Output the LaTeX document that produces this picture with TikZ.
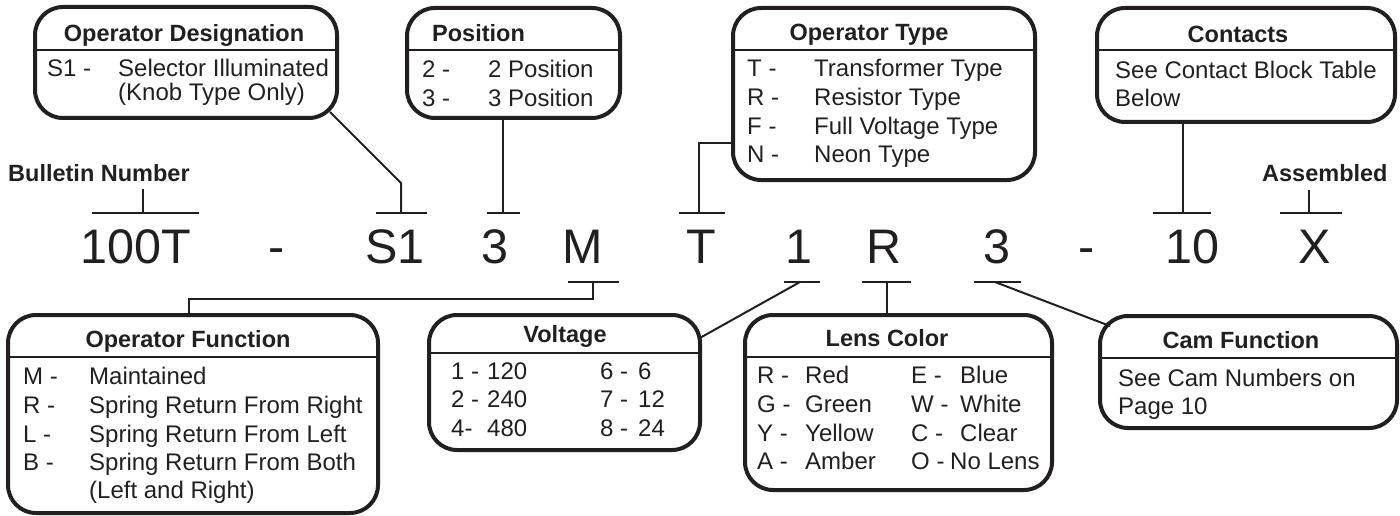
\documentclass[tikz,border=0pt]{standalone}
\usepackage{fontspec}
\setmainfont{Liberation Sans}
\definecolor{ink}{RGB}{35,31,32}
\begin{document}
\begin{tikzpicture}[x=1pt,y=-1pt,
  box/.style={draw=ink, line width=4pt, rounded corners=28pt, inner sep=0pt, outer sep=0pt},
  sepline/.style={draw=ink, line width=2pt},
  conn/.style={draw=ink, line width=2pt},
  body/.style={font=\fontsize{24}{28}\selectfont, text=ink, inner sep=0pt, anchor=base west},
  ttl/.style={font=\fontsize{23.5}{28}\selectfont\bfseries, text=ink, inner sep=0pt, anchor=base},
  lbl/.style={font=\fontsize{23.5}{28}\selectfont\bfseries, text=ink, inner sep=0pt, anchor=base west},
  big/.style={font=\fontsize{48.5}{56}\selectfont, text=ink, inner sep=0pt, anchor=base}]
\useasboundingbox (0,0) rectangle (1400,516);

% ---------- boxes ----------
\node[box, minimum width=302pt, minimum height=111pt] (od) at (186,62.5) {};
\node[box, minimum width=213pt, minimum height=110pt] (pos) at (513.5,63) {};
\node[box, minimum width=302pt, minimum height=172pt] (ot) at (884,94) {};
\node[box, minimum width=298pt, minimum height=114pt] (ct) at (1246,65) {};
\node[box, minimum width=370pt, minimum height=198pt] (of) at (193,414) {};
\node[box, minimum width=271pt, minimum height=135pt] (vo) at (564.5,382.5) {};
\node[box, minimum width=307pt, minimum height=175pt] (lc) at (898.5,402.5) {};
\node[box, minimum width=297pt, minimum height=112pt] (cf) at (1248.5,372) {};

% header separators
\draw[sepline] (35,50) -- (337,50);
\draw[sepline] (407,50) -- (620,50);
\draw[sepline] (733,50) -- (1035,50);
\draw[sepline] (1097,50) -- (1395,50);
\draw[sepline] (8,357) -- (378,357);
\draw[sepline] (429,353) -- (700,353);
\draw[sepline] (745,357) -- (1052,357);
\draw[sepline] (1100,358) -- (1397,358);

% ---------- box texts ----------
\node[ttl] (odT) at (184,42) {Operator Designation};
\node[body] (od1k) at (47,77) {S1 -};
\node[body] (od1v) at (118,77) {Selector Illuminated};
\node[body] (od2v) at (118,101) {(Knob Type Only)};

\node[lbl] (posT) at (432,42) {Position};
\node[body] (pos1k) at (422,78) {2 -};
\node[body] (pos1v) at (488,78) {2 Position};
\node[body] (pos2k) at (422,107) {3 -};
\node[body] (pos2v) at (488,107) {3 Position};

\node[ttl] (otT) at (869,41) {Operator Type};
\node[body] (ot1k) at (747,77) {T -};
\node[body] (ot1v) at (814,77) {Transformer Type};
\node[body] (ot2k) at (747,106) {R -};
\node[body] (ot2v) at (814,106) {Resistor Type};
\node[body] (ot3k) at (747,135) {F -};
\node[body] (ot3v) at (814,135) {Full Voltage Type};
\node[body] (ot4k) at (747,163) {N -};
\node[body] (ot4v) at (814,163) {Neon Type};

\node[ttl] (ctT) at (1238,43) {Contacts};
\node[body] (ct1) at (1115,79) {See Contact Block Table};
\node[body] (ct2) at (1115,107) {Below};

\node[lbl] (bn) at (8,182) {Bulletin Number};
\node[lbl] (as) at (1262,182) {Assembled};

\node[ttl] (ofT) at (188,347) {Operator Function};
\node[body] (of1k) at (23,384) {M -};
\node[body] (of1v) at (89,384) {Maintained};
\node[body] (of2k) at (23,413) {R -};
\node[body] (of2v) at (89,413) {Spring Return From Right};
\node[body] (of3k) at (23,442) {L -};
\node[body] (of3v) at (89,442) {Spring Return From Left};
\node[body] (of4k) at (23,470) {B -};
\node[body] (of4v) at (89,470) {Spring Return From Both};
\node[body] (of5v) at (89,498) {(Left and Right)};

\node[ttl] (voT) at (565,342) {Voltage};
\node[body] (vo1k) at (451,379) {1 -};
\node[body] (vo1v) at (487,379) {120};
\node[body] (vo2k) at (451,407) {2 -};
\node[body] (vo2v) at (487,407) {240};
\node[body] (vo3k) at (451,436) {4-};
\node[body] (vo3v) at (487,436) {480};
\node[body] (vo4k) at (600,379) {6 -};
\node[body] (vo4v) at (638,379) {6};
\node[body] (vo5k) at (600,407) {7 -};
\node[body] (vo5v) at (638,407) {12};
\node[body] (vo6k) at (600,436) {8 -};
\node[body] (vo6v) at (638,436) {24};

\node[ttl] (lcT) at (887,346) {Lens Color};
\node[body] (lc1k) at (757,383) {R -};
\node[body] (lc1v) at (805,383) {Red};
\node[body] (lc2k) at (757,412) {G -};
\node[body] (lc2v) at (805,412) {Green};
\node[body] (lc3k) at (757,441) {Y -};
\node[body] (lc3v) at (805,441) {Yellow};
\node[body] (lc4k) at (757,469) {A -};
\node[body] (lc4v) at (805,469) {Amber};
\node[body] (lc5k) at (911,383) {E -};
\node[body] (lc5v) at (960,383) {Blue};
\node[body] (lc6k) at (911,412) {W -};
\node[body] (lc6v) at (960,412) {White};
\node[body] (lc7k) at (911,441) {C -};
\node[body] (lc7v) at (960,441) {Clear};
\node[body] (lc8k) at (911,469) {O -};
\node[body] (lc8v) at (950,469) {No Lens};

\node[ttl] (cfT) at (1241,348) {Cam Function};
\node[body] (cf1) at (1118,386) {See Cam Numbers on};
\node[body] (cf2) at (1118,414) {Page 10};

% ---------- catalogue number ----------
\node[big] (c1) at (136,263) {100T};
\node[big] (c2) at (277,263) {-};
\node[big] (c3) at (395,263) {S1};
\node[big] (c4) at (495,263) {3};
\node[big] (c5) at (583,263) {M};
\node[big] (c6) at (701,263) {T};
\node[big] (c7) at (799,263) {1};
\node[big] (c8) at (884,263) {R};
\node[big] (c9) at (997,263) {3};
\node[big] (c10) at (1087,263) {-};
\node[big] (c11) at (1192,263) {10};
\node[big] (c12) at (1315,263) {X};

% ---------- tick marks ----------
\coordinate (tBa) at (92,213);   \coordinate (tBb) at (199,213);  \coordinate (tBm) at (143,213);
\coordinate (tSa) at (376,213);  \coordinate (tSb) at (427,213);  \coordinate (tSm) at (401,213);
\coordinate (tPa) at (487,213);  \coordinate (tPb) at (520,213);  \coordinate (tPm) at (503,213);
\coordinate (tTa) at (679,213);  \coordinate (tTb) at (725,213);  \coordinate (tTm) at (699,213);
\coordinate (tCa) at (1153,213); \coordinate (tCb) at (1211,213); \coordinate (tCm) at (1183,213);
\coordinate (tXa) at (1280,213); \coordinate (tXb) at (1342,213); \coordinate (tXm) at (1309,213);
\coordinate (tMa) at (568,282);  \coordinate (tMb) at (619,282);  \coordinate (tMm) at (593,282);
\coordinate (tVa) at (784,282);  \coordinate (tVb) at (820,282);  \coordinate (tVm) at (800,282);
\coordinate (tLa) at (862,282);  \coordinate (tLb) at (911,282);  \coordinate (tLm) at (887,282);
\coordinate (tFa) at (974,282);  \coordinate (tFb) at (1021,282); \coordinate (tFm) at (995,282);
\foreach \t in {B,S,P,T,C,X,M,V,L,F} {\draw[conn] (t\t a) -- (t\t b);}

% ---------- connectors ----------
\coordinate (bnA) at (143,189);
\draw[conn] (bnA) -- (tBm);
\coordinate (odA) at (330,112);
\coordinate (odB) at (401,183);
\draw[conn] (odA) -- (odB) -- (tSm);
\draw[conn] (pos.south -| tPm) -- (tPm);
\coordinate (otA) at (733,143);
\draw[conn] (otA) -- (tTm |- otA) -- (tTm);
\draw[conn] (ct.south -| tCm) -- (tCm);
\coordinate (asA) at (1309,190);
\draw[conn] (asA) -- (tXm);
\coordinate (ofA) at (189,315);
\coordinate (ofB) at (189,299);
\draw[conn] (ofA) -- (ofB) -- (tMm |- ofB) -- (tMm);
\coordinate (voA) at (698,339);
\draw[conn] (voA) -- (tVm);
\draw[conn] (lc.north -| tLm) -- (tLm);
\coordinate (cfA) at (1110,326);
\draw[conn] (tFm) -- (cfA);
\end{tikzpicture}
\end{document}
